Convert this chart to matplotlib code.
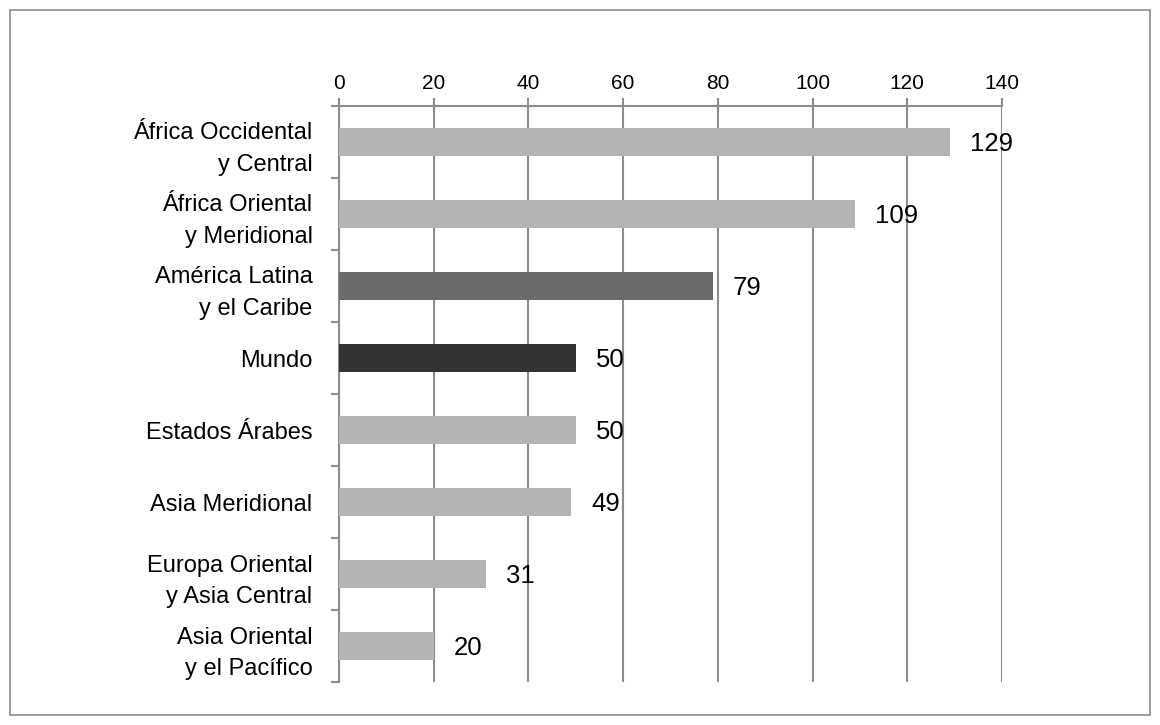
import matplotlib
matplotlib.use("Agg")
import matplotlib.pyplot as plt
from matplotlib.patches import Rectangle

plt.rcParams['font.family'] = ['Liberation Sans', 'DejaVu Sans']

# data
regions = ["África Occidental\ny Central", "África Oriental\ny Meridional", "América Latina\ny el Caribe",
           "Mundo", "Estados Árabes", "Asia Meridional", "Europa Oriental\ny Asia Central",
           "Asia Oriental\ny el Pacífico"]
values = [129, 109, 79, 50, 50, 49, 31, 20]
colors = ["#b4b4b4", "#b4b4b4", "#6b6b6b", "#333333", "#b4b4b4", "#b4b4b4", "#b4b4b4", "#b4b4b4"]
xticks = [0, 20, 40, 60, 80, 100, 120, 140]

fig = plt.figure(figsize=(11.6, 7.25), dpi=100)
fig.patches.append(Rectangle((0.009, 0.014), 0.982, 0.972, transform=fig.transFigure,
                             fill=False, edgecolor="#8c8c8c", linewidth=1.2))
ax = fig.add_axes([0.2922, 0.0593, 0.5716, 0.7945])

pos = list(range(len(regions)))
ax.barh(pos, values, height=0.39, color=colors, zorder=3)
for p, v in zip(pos, values):
    ax.text(v + 4.2, p + 0.03, str(v), va="center", ha="left", fontsize=18.5, zorder=4)

ax.set_ylim(len(regions) - 0.5, -0.5)
ax.set_xlim(0, 140)
ax.xaxis.tick_top()
ax.set_xticks(xticks)
ax.tick_params(axis="x", length=6, width=1.5, color="#8c8c8c", labelsize=15, pad=3)
ax.grid(axis="x", color="#8c8c8c", linewidth=1.5, zorder=0)

# y ticks at category boundaries, labels centered
ax.set_yticks([p - 0.5 for p in pos] + [len(regions) - 0.5])
ax.set_yticklabels([])
ax.set_yticks(pos, minor=True)
ax.set_yticklabels(regions, minor=True, fontsize=17, ha="right", multialignment="right",
                   linespacing=1.55)
ax.tick_params(axis="y", which="major", length=6, width=1.5, color="#8c8c8c")
ax.tick_params(axis="y", which="minor", length=0, pad=19)

for s in ["right", "bottom"]:
    ax.spines[s].set_visible(False)
ax.spines["top"].set_color("#8c8c8c")
ax.spines["top"].set_linewidth(1.5)
ax.spines["left"].set_color("#8c8c8c")
ax.spines["left"].set_linewidth(1.5)

fig.savefig("out.png", dpi=100)
